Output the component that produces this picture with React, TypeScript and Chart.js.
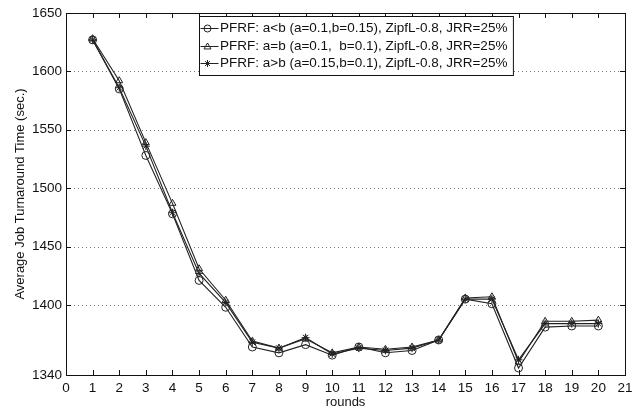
import React, { useEffect, useRef } from "react";
import { Chart, registerables } from "chart.js";

Chart.register(...registerables);

const rounds = [1, 2, 3, 4, 5, 6, 7, 8, 9, 10, 11, 12, 13, 14, 15, 16, 17, 18, 19, 20];
const seriesLabels = [
  "PFRF: a<b (a=0.1,b=0.15), ZipfL-0.8, JRR=25%",
  "PFRF: a=b (a=0.1,  b=0.1), ZipfL-0.8, JRR=25%",
  "PFRF: a>b (a=0.15,b=0.1), ZipfL-0.8, JRR=25%",
];
const aLessB = [1627, 1585, 1528, 1478, 1421, 1398, 1364, 1359, 1366, 1357, 1364, 1359, 1361, 1370, 1405, 1401, 1346, 1381, 1382, 1382];
const aEqualB = [1628, 1592, 1539, 1487, 1431, 1404, 1369, 1363, 1371, 1359, 1364, 1362, 1364, 1370, 1406, 1407, 1351, 1386, 1386, 1387];
const aGreaterB = [1627, 1586, 1536, 1479, 1427, 1402, 1368, 1363, 1372, 1358, 1363, 1361, 1363, 1370, 1405, 1405, 1353, 1384, 1384, 1384];
const yTicks = [1340, 1400, 1450, 1500, 1550, 1600, 1650];
const yGridValues = [1400, 1450, 1500, 1550, 1600];
const xTicks = [0, 1, 2, 3, 4, 5, 6, 7, 8, 9, 10, 11, 12, 13, 14, 15, 16, 17, 18, 19, 20, 21];
const markerStyles = ["circle", "triangle", "star"];

const FONT = "Liberation Sans, Arial, Helvetica, sans-serif";

function drawMarker(ctx: CanvasRenderingContext2D, style: string, x: number, y: number, r: number) {
  ctx.beginPath();
  if (style === "circle") {
    ctx.arc(x, y, r, 0, Math.PI * 2);
  } else if (style === "triangle") {
    ctx.moveTo(x, y - r);
    ctx.lineTo(x + r, y + r * 0.7);
    ctx.lineTo(x - r, y + r * 0.7);
    ctx.closePath();
  } else {
    ctx.moveTo(x - r, y);
    ctx.lineTo(x + r, y);
    ctx.moveTo(x, y - r);
    ctx.lineTo(x, y + r);
    const d = r * 0.7;
    ctx.moveTo(x - d, y - d);
    ctx.lineTo(x + d, y + d);
    ctx.moveTo(x - d, y + d);
    ctx.lineTo(x + d, y - d);
  }
  ctx.stroke();
}

const framePlugin = {
  id: "frame",
  beforeDatasetsDraw(chart: any) {
    const { ctx, chartArea } = chart;
    const ys = chart.scales.y;
    ctx.save();
    ctx.strokeStyle = "#777";
    ctx.lineWidth = 1;
    ctx.setLineDash([1, 3]);
    ctx.beginPath();
    yGridValues.forEach((v) => {
      const py = Math.round(ys.getPixelForValue(v)) + 0.5;
      ctx.moveTo(chartArea.left, py);
      ctx.lineTo(chartArea.right, py);
    });
    ctx.stroke();
    ctx.restore();
  },
  afterDraw(chart: any) {
    const { ctx, chartArea } = chart;
    const { left, right, top, bottom } = chartArea;
    const xs = chart.scales.x;
    const ys = chart.scales.y;
    ctx.save();
    ctx.strokeStyle = "#111";
    ctx.lineWidth = 1;
    ctx.strokeRect(Math.round(left) + 0.5, Math.round(top) + 0.5, Math.round(right - left), Math.round(bottom - top));
    const tl = 5;
    ctx.beginPath();
    xTicks.forEach((t) => {
      const px = Math.round(xs.getPixelForValue(t)) + 0.5;
      ctx.moveTo(px, bottom);
      ctx.lineTo(px, bottom - tl);
      ctx.moveTo(px, top);
      ctx.lineTo(px, top + tl);
    });
    yTicks.forEach((t) => {
      const py = Math.round(ys.getPixelForValue(t)) + 0.5;
      ctx.moveTo(left, py);
      ctx.lineTo(left + tl, py);
      ctx.moveTo(right, py);
      ctx.lineTo(right - tl, py);
    });
    ctx.stroke();

    // legend
    ctx.font = "13.5px " + FONT;
    const widths = seriesLabels.map((s) => ctx.measureText(s).width);
    const maxW = Math.max(...widths);
    const bx = 199.5;
    const by = 16.5;
    const textX = 220;
    const bw = textX - bx + maxW + 6;
    const bh = 59;
    ctx.fillStyle = "#fff";
    ctx.fillRect(bx, by, bw, bh);
    ctx.strokeStyle = "#111";
    ctx.strokeRect(bx, by, bw, bh);
    const rowsY = [28, 46, 63];
    seriesLabels.forEach((lab, i) => {
      const ry = rowsY[i] + 0.5;
      ctx.strokeStyle = "#222";
      ctx.beginPath();
      ctx.moveTo(bx + 1, ry);
      ctx.lineTo(bx + 19, ry);
      ctx.stroke();
      drawMarker(ctx, markerStyles[i], bx + 8, ry, 3.5);
      ctx.fillStyle = "#111";
      ctx.textAlign = "left";
      ctx.textBaseline = "middle";
      ctx.fillText(lab, textX, ry);
    });
    ctx.restore();
  },
};

export default function App() {
  const ref = useRef<HTMLCanvasElement>(null);
  useEffect(() => {
    document.body.style.margin = "0";
    const canvas = ref.current!;
    const data = [aLessB, aEqualB, aGreaterB];
    const chart = new Chart(canvas, {
      type: "line",
      data: {
        datasets: data.map((vals, i) => ({
          label: seriesLabels[i],
          data: rounds.map((r, j) => ({ x: r, y: vals[j] })),
          borderColor: "#222",
          borderWidth: 1.1,
          pointStyle: markerStyles[i] as any,
          pointRadius: 4,
          pointBorderWidth: 1,
          pointBorderColor: "#222",
          pointBackgroundColor: "rgba(0,0,0,0)",
          fill: false,
          tension: 0,
        })),
      },
      options: {
        responsive: false,
        animation: false,
        layout: { padding: { top: 13, right: 19, left: 0, bottom: 0 } },
        plugins: { legend: { display: false }, tooltip: { enabled: false } },
        scales: {
          x: {
            type: "linear",
            min: 0,
            max: 21,
            afterBuildTicks: (scale: any) => {
              scale.ticks = xTicks.map((v) => ({ value: v }));
            },
            afterFit: (scale: any) => {
              scale.height = 41;
              scale.paddingLeft = 0;
              scale.paddingRight = 0;
            },
            grid: { display: false, drawTicks: false },
            border: { display: false },
            ticks: {
              padding: 5,
              maxRotation: 0,
              autoSkip: false,
              color: "#111",
              font: { family: FONT, size: 13.5 },
              callback: (v: any) => String(v),
            },
            title: {
              display: true,
              text: "rounds",
              color: "#111",
              font: { family: FONT, size: 13 },
              padding: { top: 0, bottom: 6 },
            },
          },
          y: {
            type: "linear",
            min: 1340,
            max: 1650,
            afterBuildTicks: (scale: any) => {
              scale.ticks = yTicks.map((v) => ({ value: v }));
            },
            afterFit: (scale: any) => {
              scale.width = 66;
              scale.paddingTop = 0;
              scale.paddingBottom = 0;
            },
            grid: { display: false, drawTicks: false },
            border: { display: false },
            ticks: {
              padding: 4,
              autoSkip: false,
              color: "#111",
              font: { family: FONT, size: 13.5 },
              callback: (v: any) => String(v),
            },
            title: {
              display: true,
              text: "Average Job Turnaround Time (sec.)",
              color: "#111",
              font: { family: FONT, size: 13 },
              padding: { top: 13, bottom: 0 },
            },
          },
        },
      },
      plugins: [framePlugin],
    });
    return () => chart.destroy();
  }, []);
  return <canvas ref={ref} width={644} height={416} style={{ display: "block" }} />;
}
